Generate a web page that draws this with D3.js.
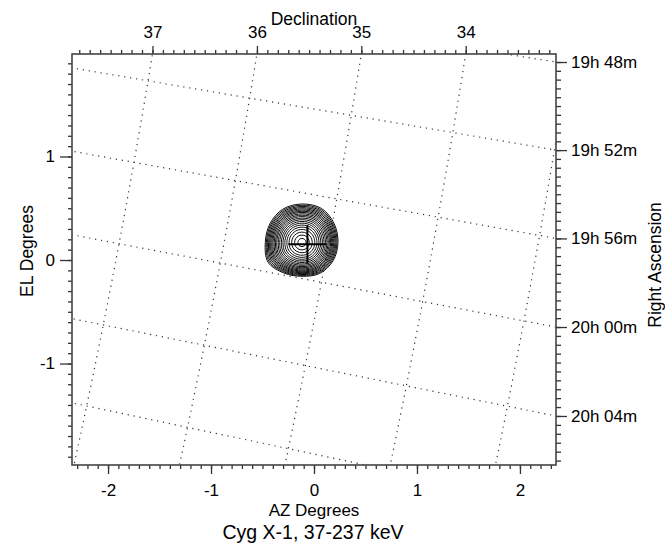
<!DOCTYPE html>
<html>
<head>
<meta charset="utf-8">
<script src="https://cdn.jsdelivr.net/npm/d3@7"></script>
<style>
  body { margin: 0; background: #fff; }
  text { font-family: "Liberation Sans", Arial, Helvetica, sans-serif; fill: #000; }
</style>
</head>
<body>
<div id="chart"></div>
<script>
// pointing centre of the map (deg) and roll of the RA/Dec grid
var raCen = 299.758, decCen = 35.111, rollDeg = 10.6;
// Cyg X-1 catalogue position (deg)
var srcRa = 299.5903, srcDec = 35.2016;
var crossArm = 0.185;

var azDomain = [-2.35, 2.35];
var elDomain = [-1.98, 1.99];
var azTicks = [-2, -1, 0, 1, 2];
var elTicks = [-1, 0, 1];

var decLines = [33, 34, 35, 36, 37, 38];          // degrees
var raLines = [44, 48, 52, 56, 60, 64, 68];       // minutes after 19h
var decLabels = [34, 35, 36, 37];
var raLabels = [48, 52, 56, 60, 64];

// peak of the image and outline of the outer contour (deg, every 30 deg from +AZ, counter-clockwise)
var peak = [-0.117, 0.169];
var outerAngles = [0, 30, 60, 90, 120, 150, 180, 210, 240, 270, 300, 330];
var outerRadius = [0.350, 0.362, 0.380, 0.372, 0.372, 0.360, 0.356, 0.380, 0.342, 0.326, 0.345, 0.350];
// contour levels as a fraction of the outer contour size
var levelFrac = [0.11, 0.2, 0.28, 0.35, 0.41, 0.465, 0.515, 0.56, 0.605, 0.645, 0.685, 0.72,
                 0.755, 0.79, 0.82, 0.85, 0.88, 0.91, 0.94, 0.97, 1.0];

var width = 665, height = 543;
var plotL = 72, plotR = 556, plotT = 54, plotB = 465;

var svg = d3.select("#chart").append("svg")
  .attr("width", width).attr("height", height);

var x = d3.scaleLinear().domain(azDomain).range([plotL, plotR]);
var y = d3.scaleLinear().domain(elDomain).range([plotB, plotT]);

// tangent plane projection, sky north pointing to -AZ
var D2R = Math.PI / 180;
var sr = Math.sin(rollDeg * D2R), cr = Math.cos(rollDeg * D2R);
function project(ra, dec) {
  var a = (ra - raCen) * D2R, d = dec * D2R, d0 = decCen * D2R;
  var cc = Math.sin(d0) * Math.sin(d) + Math.cos(d0) * Math.cos(d) * Math.cos(a);
  var xi = Math.cos(d) * Math.sin(a) / cc / D2R;
  var eta = (Math.cos(d0) * Math.sin(d) - Math.sin(d0) * Math.cos(d) * Math.cos(a)) / cc / D2R;
  return [-xi * sr - eta * cr, -xi * cr + eta * sr];
}
function unproject(az, el) {
  var xi = (-az * sr - el * cr) * D2R, eta = (-az * cr + el * sr) * D2R;
  var d0 = decCen * D2R, rho = Math.hypot(xi, eta);
  if (rho === 0) return [raCen, decCen];
  var c = Math.atan(rho);
  var dec = Math.asin(Math.cos(c) * Math.sin(d0) + eta * Math.sin(c) * Math.cos(d0) / rho);
  var ra = raCen * D2R + Math.atan2(xi * Math.sin(c),
    rho * Math.cos(d0) * Math.cos(c) - eta * Math.sin(d0) * Math.sin(c));
  return [ra / D2R, dec / D2R];
}
function raMin(deg) { return (deg / 15 - 19) * 60; }
function raDeg(min) { return (19 + min / 60) * 15; }

// top and right axes follow the grid along the frame edges
var edgeAz = d3.range(0, 61).map(function(i) { return azDomain[0] + i * (azDomain[1] - azDomain[0]) / 60; });
var edgeEl = d3.range(0, 61).map(function(i) { return elDomain[0] + i * (elDomain[1] - elDomain[0]) / 60; });
var decScale = d3.scaleLinear()
  .domain(edgeAz.map(function(a) { return unproject(a, elDomain[1])[1]; }))
  .range(edgeAz.map(function(a) { return x(a); }));
var raScale = d3.scaleLinear()
  .domain(edgeEl.map(function(e) { return raMin(unproject(azDomain[1], e)[0]); }))
  .range(edgeEl.map(function(e) { return y(e); }));

function inside(scale) {
  var ext = d3.extent(scale.domain());
  return function(v) { return v >= ext[0] && v <= ext[1]; };
}
var azMinor = d3.range(-23, 24).map(function(i) { return i / 10; });
var elMinor = d3.range(-19, 20).map(function(i) { return i / 10; });
var decMinor = d3.range(330, 380).map(function(i) { return i / 10; }).filter(inside(decScale));
var raMinor = d3.range(115, 168).map(function(i) { return i * 0.4; }).filter(inside(raScale));

function raText(m) {
  var h = 19 + Math.floor(m / 60), mm = Math.round(m - Math.floor(m / 60) * 60);
  return h + "h " + (mm < 10 ? "0" : "") + mm + "m";
}

svg.append("defs").append("clipPath").attr("id", "plot")
  .append("rect").attr("x", plotL).attr("y", plotT)
  .attr("width", plotR - plotL).attr("height", plotB - plotT);

// coordinate grid
var line = d3.line().x(function(p) { return x(p[0]); }).y(function(p) { return y(p[1]); });
var grid = svg.append("g").attr("clip-path", "url(#plot)")
  .attr("fill", "none").attr("stroke", "#333").attr("stroke-width", 1.2)
  .attr("stroke-dasharray", "1.2 4.8");
decLines.forEach(function(dec) {
  var pts = d3.range(36, 82).map(function(m) { return project(raDeg(m), dec); });
  grid.append("path").attr("d", line(pts));
});
raLines.forEach(function(m) {
  var pts = d3.range(310, 396).map(function(i) { return project(raDeg(m), i / 10); });
  grid.append("path").attr("d", line(pts));
});

// contours
var ring = d3.line().x(function(p) { return x(p[0]); }).y(function(p) { return y(p[1]); })
  .curve(d3.curveCatmullRomClosed.alpha(0.5));
var meanR = d3.mean(outerRadius);
var cont = svg.append("g").attr("fill", "none").attr("stroke", "#000").attr("stroke-width", 0.95);
levelFrac.forEach(function(f) {
  var pts = outerAngles.map(function(a, i) {
    var r = f * (meanR + (outerRadius[i] - meanR) * Math.pow(f, 1.5));
    return [peak[0] + r * Math.cos(a * D2R), peak[1] + r * Math.sin(a * D2R)];
  });
  cont.append("path").attr("d", ring(pts));
});

// source marker
var src = project(srcRa, srcDec);
var cross = svg.append("g").attr("stroke", "#000").attr("stroke-width", 2);
cross.append("line").attr("x1", x(src[0] - crossArm)).attr("x2", x(src[0] + crossArm))
  .attr("y1", y(src[1])).attr("y2", y(src[1]));
cross.append("line").attr("x1", x(src[0])).attr("x2", x(src[0]))
  .attr("y1", y(src[1] - crossArm)).attr("y2", y(src[1] + crossArm));

// axes
function styleAxis(g) {
  g.select(".domain").remove();
  g.selectAll("line").attr("stroke", "#333").attr("stroke-width", 1.3);
  g.selectAll("text").attr("font-size", 17).attr("fill", "#000");
  g.attr("font-family", null).attr("font-size", null);
}
function axisPair(axisFn, scale, minor, major, minorLen, majorLen, pad, fmt, transform) {
  svg.append("g").attr("transform", transform)
    .call(axisFn(scale).tickValues(minor).tickSize(minorLen).tickFormat(""))
    .call(styleAxis);
  svg.append("g").attr("transform", transform)
    .call(axisFn(scale).tickValues(major).tickSize(majorLen).tickPadding(pad).tickFormat(fmt))
    .call(styleAxis);
}
axisPair(d3.axisBottom, x, azMinor, azTicks, 4, 9, 10, String, "translate(0," + plotB + ")");
axisPair(d3.axisLeft, y, elMinor, elTicks, 4, 12, 5, String, "translate(" + plotL + ",0)");
axisPair(d3.axisTop, decScale, decMinor, decLabels, 4, 8, 8, String, "translate(0," + plotT + ")");
axisPair(d3.axisRight, raScale, raMinor, raLabels, 5, 11, 4, raText, "translate(" + plotR + ",0)");

svg.append("rect").attr("x", plotL).attr("y", plotT)
  .attr("width", plotR - plotL).attr("height", plotB - plotT)
  .attr("fill", "none").attr("stroke", "#444").attr("stroke-width", 1.6);

// titles
svg.append("text").attr("x", 314).attr("y", 25).attr("text-anchor", "middle")
  .attr("font-size", 17.5).text("Declination");
svg.append("text").attr("x", 314).attr("y", 516).attr("text-anchor", "middle")
  .attr("font-size", 17).text("AZ Degrees");
svg.append("text").attr("x", 313).attr("y", 538.5).attr("text-anchor", "middle")
  .attr("font-size", 19.5).text("Cyg X-1, 37-237 keV");
svg.append("text").attr("transform", "translate(33,251) rotate(-90)").attr("text-anchor", "middle")
  .attr("font-size", 17.5).text("EL Degrees");
svg.append("text").attr("transform", "translate(661,265) rotate(-90)").attr("text-anchor", "middle")
  .attr("font-size", 17.5).text("Right Ascension");
</script>
</body>
</html>
